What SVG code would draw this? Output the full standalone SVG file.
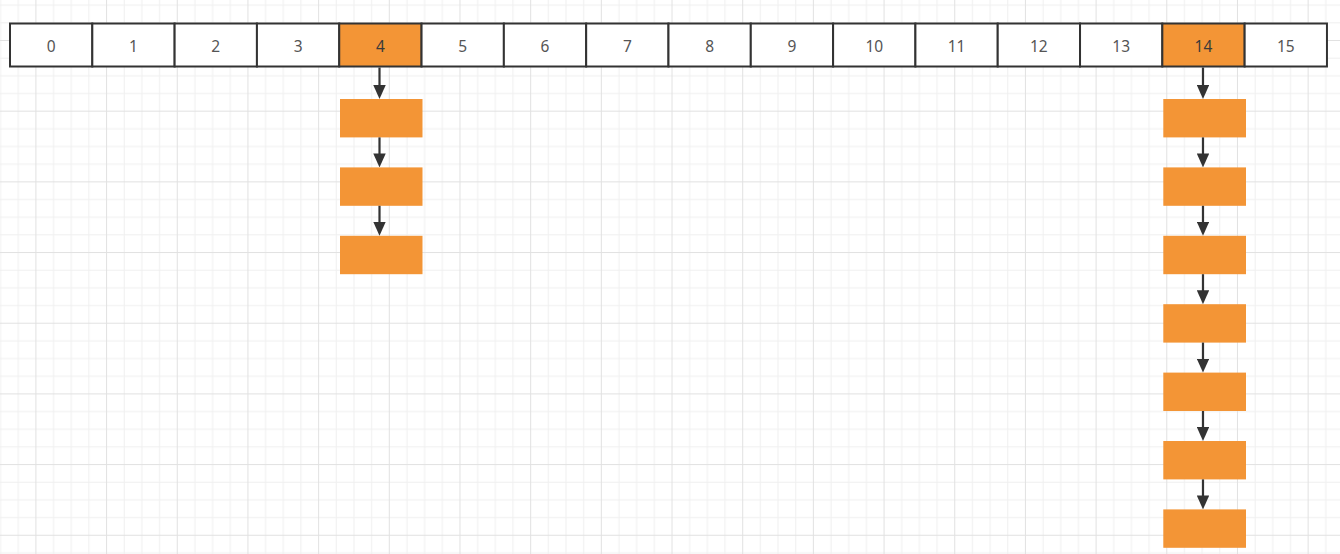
<svg xmlns="http://www.w3.org/2000/svg" width="1340" height="554" viewBox="0 0 1340 554">
  <defs>
    <pattern id="grid" patternUnits="userSpaceOnUse" x="35.4" y="40" width="70.68" height="70.68">
      <rect x="17.67" y="0" width="1" height="70.68" fill="#efefef"/>
      <rect x="35.34" y="0" width="1" height="70.68" fill="#efefef"/>
      <rect x="53.01" y="0" width="1" height="70.68" fill="#efefef"/>
      <rect x="0" y="17.67" width="70.68" height="1" fill="#efefef"/>
      <rect x="0" y="35.34" width="70.68" height="1" fill="#efefef"/>
      <rect x="0" y="53.01" width="70.68" height="1" fill="#efefef"/>
      <rect x="0" y="0" width="1" height="70.68" fill="#e1e1e1"/>
      <rect x="0" y="0" width="70.68" height="1" fill="#e1e1e1"/>
    </pattern>
    <marker id="arrow" viewBox="0 0 14 12.5" markerWidth="14" markerHeight="12.5" markerUnits="userSpaceOnUse" refX="7" refY="6.25" orient="auto">
      <path d="M0,0 L14,6.25 L0,12.5 z" fill="#333333"/>
    </marker>
    <style>
      .cell { fill: #ffffff; stroke: #333333; stroke-width: 2; }
      .hot { fill: #f39536; stroke: #333333; stroke-width: 2; }
      .box { fill: #f39536; stroke: none; }
      .lbl { font-family: "Noto Sans", "Open Sans", sans-serif; font-size: 15.5px; fill: #555555; text-anchor: middle; dominant-baseline: central; }
      .hotlbl { fill: #3a3a3a; }
      .edge { stroke: #333333; stroke-width: 2.2; fill: none; marker-end: url(#arrow); }
    </style>
  </defs>
  <rect x="0" y="0" width="1340" height="554" fill="#ffffff"/>
  <rect x="0" y="0" width="1340" height="554" fill="url(#grid)"/>

  <g id="array">
    <g id="cell-0"><rect class="cell" x="10" y="23.5" width="82.31" height="43"/><text class="lbl" x="51.15" y="45.5">0</text></g>
    <g id="cell-1"><rect class="cell" x="92.31" y="23.5" width="82.31" height="43"/><text class="lbl" x="133.46" y="45.5">1</text></g>
    <g id="cell-2"><rect class="cell" x="174.62" y="23.5" width="82.31" height="43"/><text class="lbl" x="215.77" y="45.5">2</text></g>
    <g id="cell-3"><rect class="cell" x="256.93" y="23.5" width="82.31" height="43"/><text class="lbl" x="298.08" y="45.5">3</text></g>
    <g id="cell-4"><rect class="hot" x="339.24" y="23.5" width="82.31" height="43"/><text class="lbl hotlbl" x="380.39" y="45.5">4</text></g>
    <g id="cell-5"><rect class="cell" x="421.55" y="23.5" width="82.31" height="43"/><text class="lbl" x="462.7" y="45.5">5</text></g>
    <g id="cell-6"><rect class="cell" x="503.86" y="23.5" width="82.31" height="43"/><text class="lbl" x="545.01" y="45.5">6</text></g>
    <g id="cell-7"><rect class="cell" x="586.17" y="23.5" width="82.31" height="43"/><text class="lbl" x="627.32" y="45.5">7</text></g>
    <g id="cell-8"><rect class="cell" x="668.48" y="23.5" width="82.31" height="43"/><text class="lbl" x="709.63" y="45.5">8</text></g>
    <g id="cell-9"><rect class="cell" x="750.79" y="23.5" width="82.31" height="43"/><text class="lbl" x="791.94" y="45.5">9</text></g>
    <g id="cell-10"><rect class="cell" x="833.1" y="23.5" width="82.31" height="43"/><text class="lbl" x="874.25" y="45.5">10</text></g>
    <g id="cell-11"><rect class="cell" x="915.41" y="23.5" width="82.31" height="43"/><text class="lbl" x="956.56" y="45.5">11</text></g>
    <g id="cell-12"><rect class="cell" x="997.72" y="23.5" width="82.31" height="43"/><text class="lbl" x="1038.87" y="45.5">12</text></g>
    <g id="cell-13"><rect class="cell" x="1080.03" y="23.5" width="82.31" height="43"/><text class="lbl" x="1121.18" y="45.5">13</text></g>
    <g id="cell-14"><rect class="hot" x="1162.34" y="23.5" width="82.31" height="43"/><text class="lbl hotlbl" x="1203.49" y="45.5">14</text></g>
    <g id="cell-15"><rect class="cell" x="1244.65" y="23.5" width="82.31" height="43"/><text class="lbl" x="1285.8" y="45.5">15</text></g>
  </g>

  <g id="chain-4">
    <rect id="n4-0" class="box" x="340" y="99" width="82.5" height="38.4"/>
    <rect id="n4-1" class="box" x="340" y="167.4" width="82.5" height="38.4"/>
    <rect id="n4-2" class="box" x="340" y="235.8" width="82.5" height="38.4"/>
  </g>

  <g id="chain-14">
    <rect id="n14-0" class="box" x="1163.3" y="99" width="82.7" height="38.4"/>
    <rect id="n14-1" class="box" x="1163.3" y="167.4" width="82.7" height="38.4"/>
    <rect id="n14-2" class="box" x="1163.3" y="235.8" width="82.7" height="38.4"/>
    <rect id="n14-3" class="box" x="1163.3" y="304.2" width="82.7" height="38.4"/>
    <rect id="n14-4" class="box" x="1163.3" y="372.6" width="82.7" height="38.4"/>
    <rect id="n14-5" class="box" x="1163.3" y="441" width="82.7" height="38.4"/>
    <rect id="n14-6" class="box" x="1163.3" y="509.4" width="82.7" height="38.4"/>
  </g>

  <g id="connectors">
    <line class="edge" x1="379.5" y1="67.5" x2="379.5" y2="92"/>
    <line class="edge" x1="379.5" y1="137.4" x2="379.5" y2="160.4"/>
    <line class="edge" x1="379.5" y1="205.8" x2="379.5" y2="228.8"/>

    <line class="edge" x1="1203" y1="67.5" x2="1203" y2="92"/>
    <line class="edge" x1="1203" y1="137.4" x2="1203" y2="160.4"/>
    <line class="edge" x1="1203" y1="205.8" x2="1203" y2="228.8"/>
    <line class="edge" x1="1203" y1="274.2" x2="1203" y2="297.2"/>
    <line class="edge" x1="1203" y1="342.6" x2="1203" y2="365.6"/>
    <line class="edge" x1="1203" y1="411" x2="1203" y2="434"/>
    <line class="edge" x1="1203" y1="479.4" x2="1203" y2="502.4"/>
  </g>
</svg>
